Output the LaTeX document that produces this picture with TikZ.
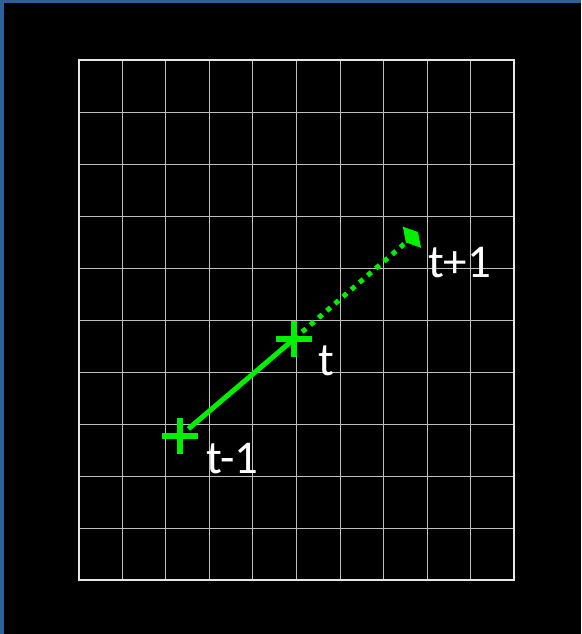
\documentclass[tikz,border=0pt]{standalone}
\usepackage{fontspec}
\setmainfont{Carlito}
\usetikzlibrary{arrows.meta}
\definecolor{frameblue}{RGB}{45,97,153}
\definecolor{brightgreen}{RGB}{0,240,0}
\definecolor{gridgray}{RGB}{190,190,190}
\definecolor{bordergray}{RGB}{230,230,230}
\tikzset{
  gridline/.style={draw=gridgray, line width=1pt},
  gridborder/.style={draw=bordergray, line width=2pt},
  crossline/.style={draw=brightgreen, line width=6pt},
  pathline/.style={draw=brightgreen, line width=5pt},
  dotline/.style={draw=brightgreen, line width=5pt, dash pattern=on 5pt off 5.8pt},
  lbl/.style={text=white, inner sep=0pt, anchor=base west, font=\fontsize{47}{54}\selectfont},
  plus/.pic={\draw[crossline] (-18,0) -- (18,0); \draw[crossline] (0,-18) -- (0,18);}
}
\begin{document}
\begin{tikzpicture}[x=1pt, y=-1pt]
\useasboundingbox (0,0) rectangle (581,634);
\fill[frameblue] (0,0) rectangle (581,634);
\fill[black] (4,3) rectangle (581,634);
% grid
\foreach \i in {1,...,9} {
  \draw[gridline] ({78.5+\i*43.6},60.5) -- ({78.5+\i*43.6},580);
  \draw[gridline] (78.5,{60.5+\i*52}) -- (514,{60.5+\i*52});
}
\draw[gridborder] (78.5,60.5) rectangle (514,580);
% points
\coordinate (p0) at (180,436);
\coordinate (p1) at (294,339);
\coordinate (p2) at (418,232);
\draw[pathline, shorten <=11pt] (p0) -- (p1);
\draw[dotline, -{Kite[length=16pt, width=28pt, inset=8pt]}] (p1) -- (p2);
\pic at (p0) {plus};
\pic at (p1) {plus};
% labels
\node[lbl] (l0) at (206,473) {t-1};
\node[lbl] (l1) at (318,375) {t};
\node[lbl] (l2) at (428,277) {t+1};
\end{tikzpicture}
\end{document}
